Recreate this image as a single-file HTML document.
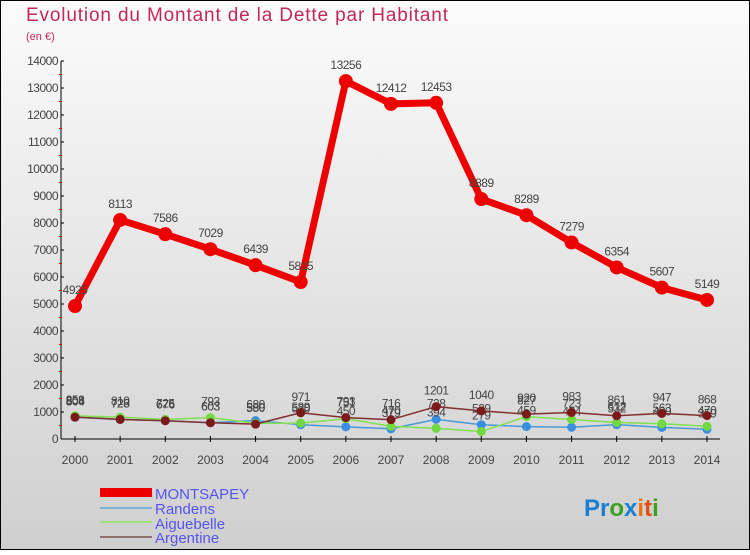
<!DOCTYPE html>
<html><head><meta charset="utf-8"><style>
html,body{margin:0;padding:0}
body{width:750px;height:550px;overflow:hidden;font-family:"Liberation Sans",sans-serif}
</style></head><body>
<svg id="chart" width="750" height="550" xmlns="http://www.w3.org/2000/svg">
<defs><linearGradient id="bg" x1="0" y1="0" x2="0" y2="1"><stop offset="0" stop-color="#fbfbfb"/><stop offset="1" stop-color="#cfcfcf"/></linearGradient></defs>
<rect x="0.5" y="0.5" width="749" height="549" fill="url(#bg)" stroke="#000"/>
<text x="26" y="21" font-size="19" fill="#c2285a" textLength="422">Evolution du Montant de la Dette par Habitant</text>
<text x="26" y="40" font-size="11" fill="#c2285a">(en €)</text>
<g id="axes"></g><g id="series"></g>
<g>
<rect x="100" y="488" width="52" height="9" fill="#e00"/>
<text x="155" y="499" font-size="15" fill="#5555ee">MONTSAPEY</text>
<line x1="100" y1="508" x2="152" y2="508" stroke="#7ab0d0" stroke-width="2"/>
<text x="155" y="514" font-size="15" fill="#5555ee">Randens</text>
<line x1="100" y1="522" x2="152" y2="522" stroke="#a0e080" stroke-width="2"/>
<text x="155" y="529" font-size="15" fill="#5555ee">Aiguebelle</text>
<line x1="100" y1="537" x2="152" y2="537" stroke="#907070" stroke-width="2"/>
<text x="155" y="543" font-size="15" fill="#5555ee">Argentine</text>
</g>
<g font-size="24" font-weight="bold">
<text x="584" y="516"><tspan fill="#1a7fd0">Pr</tspan><tspan fill="#3aa020">o</tspan><tspan fill="#1a7fd0">x</tspan><tspan fill="#f07010">i</tspan><tspan fill="#e05010">t</tspan><tspan fill="#3aa020">i</tspan></text>
</g>
</svg>
<script>
const years=[2000,2001,2002,2003,2004,2005,2006,2007,2008,2009,2010,2011,2012,2013,2014];
const montsapey=[4925,8113,7586,7029,6439,5815,13256,12412,12453,8889,8289,7279,6354,5607,5149];
const randens=[804,723,676,603,680,530,450,379,728,529,459,434,532,430,359];
const aiguebelle=[858,810,725,793,580,589,751,470,394,279,827,723,612,563,470];
const argentine=[808,726,676,603,550,971,793,716,1201,1040,920,983,861,947,868];
const yTicks=[0,1000,2000,3000,4000,5000,6000,7000,8000,9000,10000,11000,12000,13000,14000];
const NS="http://www.w3.org/2000/svg";
const X=i=>75+i*(707-75)/(years.length-1);
const Y=v=>439-v*(439-61)/14000;
function el(t,a,p){const e=document.createElementNS(NS,t);for(const k in a)e.setAttribute(k,a[k]);p.appendChild(e);return e;}
const ax=document.getElementById('axes');
let yl=el('line',{x1:61,y1:61,x2:61,y2:439,stroke:'#000'},ax);


let xl=el('line',{x1:61,y1:439,x2:720,y2:439,stroke:'#000'},ax);


yTicks.forEach(v=>{
 el('line',{x1:61,y1:Y(v),x2:64,y2:Y(v),stroke:'#000'},ax);
 if(v<14000) el('line',{x1:59,y1:Y(v+500),x2:62,y2:Y(v+500),stroke:'#e00'},ax);
 const t=el('text',{x:58,y:Y(v)+4,'font-size':12,'letter-spacing':-0.5,'text-anchor':'end',fill:'#444'},ax);
 
 
 t.textContent=v;
});
years.forEach((y,i)=>{
 el('line',{x1:X(i),y1:436,x2:X(i),y2:442,stroke:'#000'},ax);
 const t=el('text',{x:X(i),y:464,'font-size':12,'text-anchor':'middle',fill:'#444'},ax);
 
 
 t.textContent=y;
});
const sg=document.getElementById('series');
function draw(data,name,color,w,r,fill){
 const g=el('g',{},sg);
 
 
 const p=el('polyline',{points:data.map((v,i)=>X(i)+','+Y(v)).join(' '),fill:'none',stroke:color,'stroke-width':w,'stroke-linejoin':'round'},g);
 
 
 data.forEach((v,i)=>{
  const c=el('circle',{cx:X(i),cy:Y(v),r:r,fill:fill},g);
  
  
  const t=el('text',{x:X(i),y:Y(v)-12,'font-size':12,'letter-spacing':-0.5,'text-anchor':'middle',fill:'#444'},g);
  
  
  t.textContent=v;
 });
}
draw(randens,'randens','#4a9ad8',1.5,4.5,'#3a8ee0');
draw(aiguebelle,'aiguebelle','#80e050',1.5,4.5,'#70d840');
draw(argentine,'argentine','#803030',1.5,4.5,'#7a1a1a');
draw(montsapey,'montsapey','#ee0000',7,7,'#ee0000');
</script>
</body></html>
